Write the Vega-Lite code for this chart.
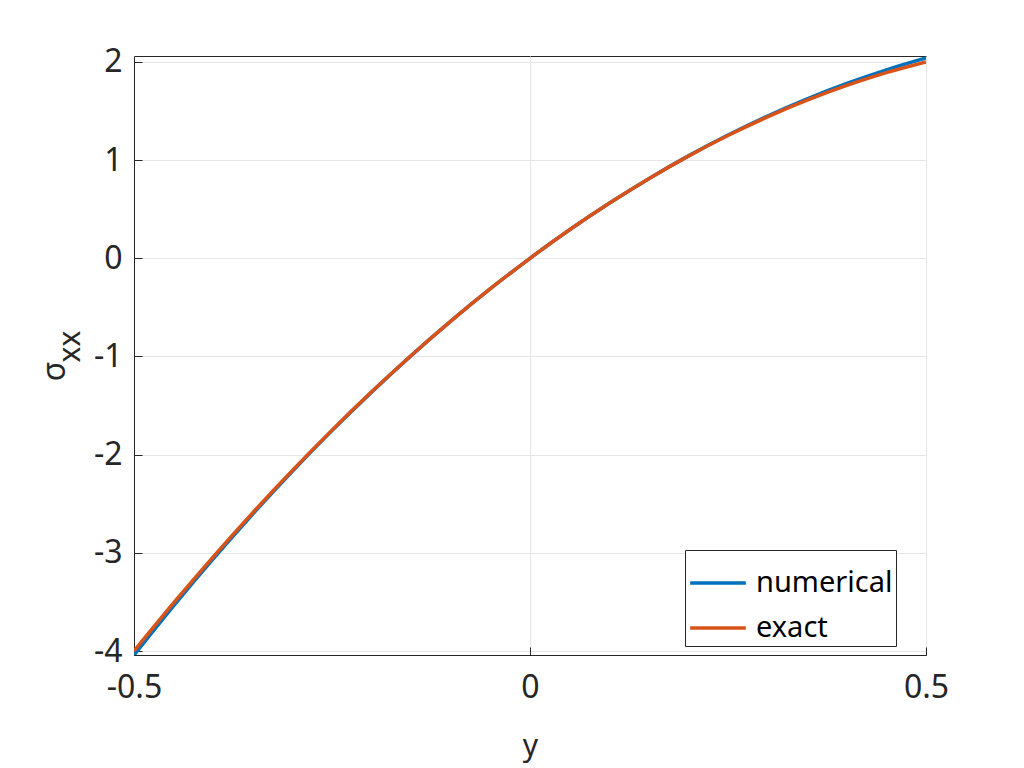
{
  "$schema": "https://vega.github.io/schema/vega-lite/v6.json",
  "description": "sigma_xx versus y, numerical and exact",
  "width": 792,
  "height": 599,
  "autosize": {"type": "none"},
  "padding": {"left": 134, "top": 56, "right": 98, "bottom": 113},
  "background": "white",
  "config": {
    "font": "Noto Sans",
    "view": {"stroke": "#262626", "strokeWidth": 1},
    "axis": {
      "domainColor": "#262626",
      "tickColor": "#262626",
      "labelColor": "#262626",
      "titleColor": "#262626",
      "gridColor": "#e6e6e6",
      "labelFontSize": 32,
      "titleFontSize": 30,
      "titleFontWeight": "normal",
      "tickSize": -8,
      "labelFont": "Noto Sans",
      "titleFont": "Noto Sans",
      "labelExpr": "datum.value < 0 ? '-' + format(-datum.value, '~g') : format(datum.value, '~g')"
    }
  },
  "data": {
    "values": [
      {"y": -0.5, "sxx": -4.04, "series": "numerical"},
      {"y": -0.45, "sxx": -3.539, "series": "numerical"},
      {"y": -0.4, "sxx": -3.061, "series": "numerical"},
      {"y": -0.35, "sxx": -2.604, "series": "numerical"},
      {"y": -0.3, "sxx": -2.169, "series": "numerical"},
      {"y": -0.25, "sxx": -1.755, "series": "numerical"},
      {"y": -0.2, "sxx": -1.363, "series": "numerical"},
      {"y": -0.15, "sxx": -0.991, "series": "numerical"},
      {"y": -0.1, "sxx": -0.64, "series": "numerical"},
      {"y": -0.05, "sxx": -0.31, "series": "numerical"},
      {"y": 0, "sxx": 0, "series": "numerical"},
      {"y": 0.05, "sxx": 0.29, "series": "numerical"},
      {"y": 0.1, "sxx": 0.56, "series": "numerical"},
      {"y": 0.15, "sxx": 0.811, "series": "numerical"},
      {"y": 0.2, "sxx": 1.043, "series": "numerical"},
      {"y": 0.25, "sxx": 1.255, "series": "numerical"},
      {"y": 0.3, "sxx": 1.449, "series": "numerical"},
      {"y": 0.35, "sxx": 1.624, "series": "numerical"},
      {"y": 0.4, "sxx": 1.78, "series": "numerical"},
      {"y": 0.45, "sxx": 1.919, "series": "numerical"},
      {"y": 0.5, "sxx": 2.04, "series": "numerical"},
      {"y": -0.5, "sxx": -4.0, "series": "exact"},
      {"y": -0.45, "sxx": -3.51, "series": "exact"},
      {"y": -0.4, "sxx": -3.04, "series": "exact"},
      {"y": -0.35, "sxx": -2.59, "series": "exact"},
      {"y": -0.3, "sxx": -2.16, "series": "exact"},
      {"y": -0.25, "sxx": -1.75, "series": "exact"},
      {"y": -0.2, "sxx": -1.36, "series": "exact"},
      {"y": -0.15, "sxx": -0.99, "series": "exact"},
      {"y": -0.1, "sxx": -0.64, "series": "exact"},
      {"y": -0.05, "sxx": -0.31, "series": "exact"},
      {"y": 0, "sxx": 0, "series": "exact"},
      {"y": 0.05, "sxx": 0.29, "series": "exact"},
      {"y": 0.1, "sxx": 0.56, "series": "exact"},
      {"y": 0.15, "sxx": 0.81, "series": "exact"},
      {"y": 0.2, "sxx": 1.04, "series": "exact"},
      {"y": 0.25, "sxx": 1.25, "series": "exact"},
      {"y": 0.3, "sxx": 1.44, "series": "exact"},
      {"y": 0.35, "sxx": 1.61, "series": "exact"},
      {"y": 0.4, "sxx": 1.76, "series": "exact"},
      {"y": 0.45, "sxx": 1.89, "series": "exact"},
      {"y": 0.5, "sxx": 2.0, "series": "exact"}
    ]
  },
  "resolve": {"axis": {"y": "independent"}},
  "layer": [
    {
      "mark": {"type": "line", "strokeWidth": 3.5, "interpolate": "monotone", "clip": true},
      "encoding": {
        "x": {
          "field": "y",
          "type": "quantitative",
          "scale": {"domain": [-0.5, 0.5], "nice": false, "zero": false},
          "axis": {
            "values": [-0.5, 0, 0.5],
            "title": "y",
            "labelFlush": false,
            "labelPadding": 25,
            "titlePadding": 28
          }
        },
        "y": {
          "field": "sxx",
          "type": "quantitative",
          "scale": {"domain": [-4.04, 2.06], "nice": false, "zero": false},
          "axis": {
            "values": [-4, -3, -2, -1, 0, 1, 2],
            "labelFlush": false,
            "title": "σ",
            "titleFontSize": 32,
            "titleAngle": 270,
            "titleAlign": "center",
            "titleBaseline": "middle",
            "titleX": -80,
            "titleY": 315,
            "labelPadding": 20
          }
        },
        "color": {
          "field": "series",
          "type": "nominal",
          "sort": ["numerical", "exact"],
          "scale": {"domain": ["numerical", "exact"], "range": ["#0072BD", "#D95319"]},
          "legend": {
            "title": null,
            "orient": "none",
            "legendX": 551,
            "legendY": 494,
            "symbolType": "stroke",
            "symbolSize": 3100,
            "symbolStrokeWidth": 3.5,
            "labelFontSize": 29,
            "labelFont": "Noto Sans",
            "labelOffset": 8,
            "labelColor": "#000000",
            "rowPadding": -3,
            "padding": 3,
            "strokeColor": "#262626",
            "fillColor": "white"
          }
        }
      }
    },
    {
      "mark": {"type": "line", "strokeWidth": 3, "opacity": 0, "clip": true},
      "encoding": {
        "x": {"field": "y", "type": "quantitative"},
        "y": {
          "field": "sxx",
          "type": "quantitative",
          "axis": {
            "orient": "left",
            "title": "xx",
            "labels": false,
            "ticks": false,
            "domain": false,
            "grid": false,
            "titleAngle": 270,
            "titleAlign": "center",
            "titleBaseline": "middle",
            "titleX": -64,
            "titleY": 290
          }
        },
        "detail": {"field": "series"}
      }
    }
  ]
}
